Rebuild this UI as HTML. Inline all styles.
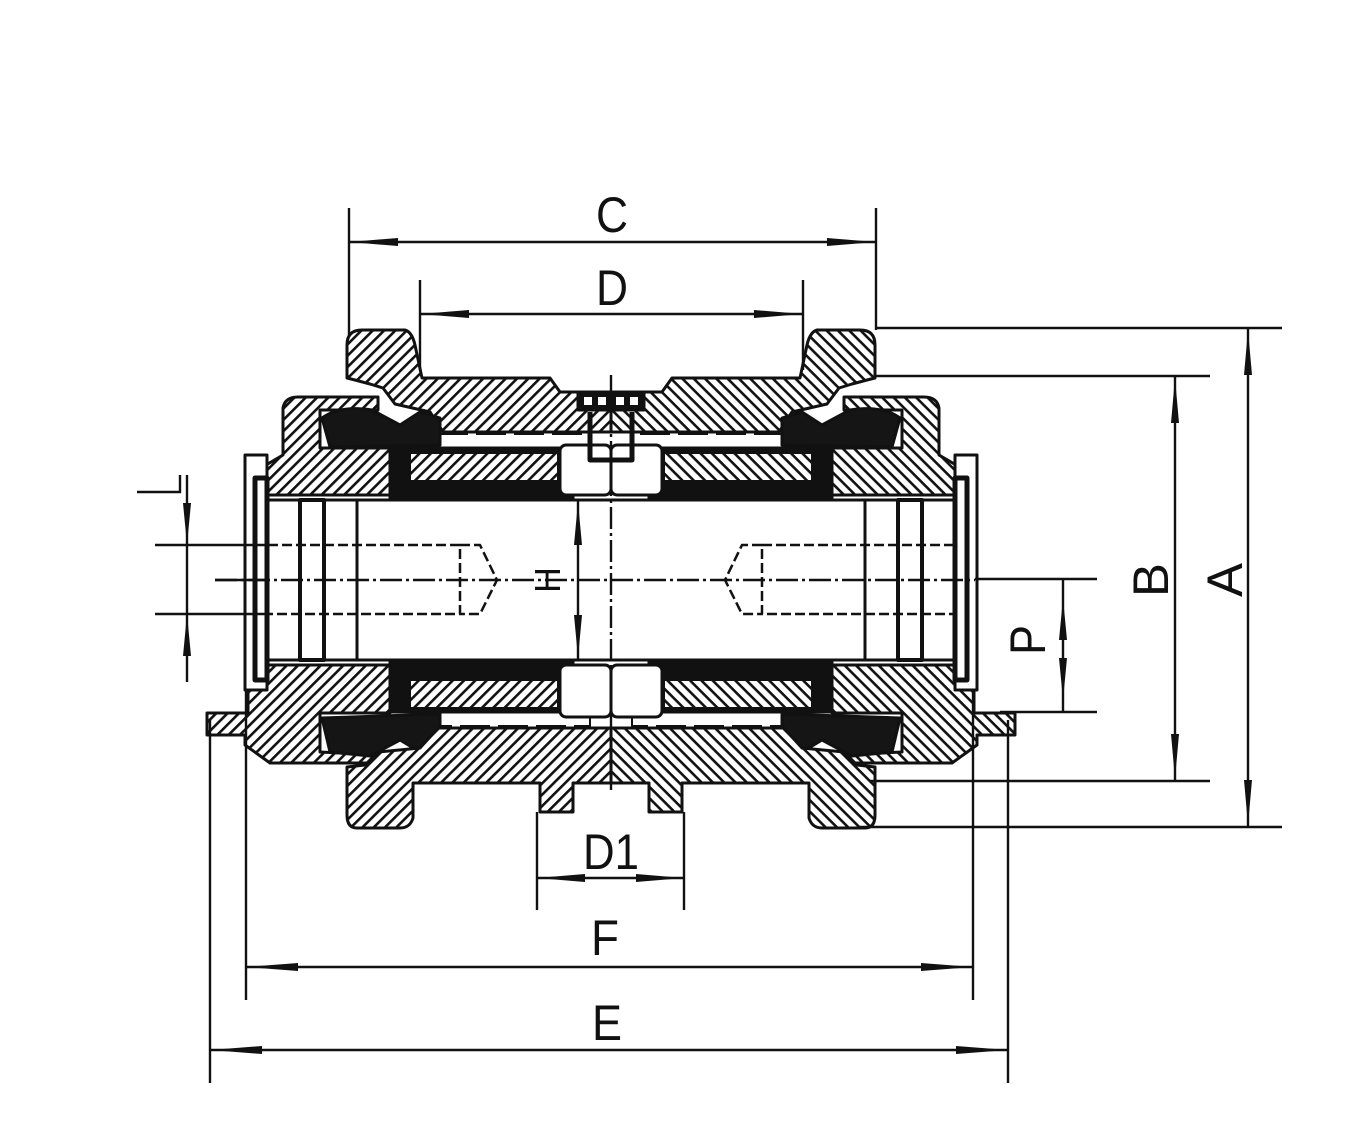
<!DOCTYPE html>
<html><head><meta charset="utf-8"><style>html,body{margin:0;padding:0;background:#fff}svg{display:block}</style></head>
<body>
<svg width="1357" height="1135" viewBox="0 0 1357 1135" xmlns="http://www.w3.org/2000/svg">
<defs>
<pattern id="h" patternUnits="userSpaceOnUse" width="8" height="8" patternTransform="rotate(45)">
<rect width="8" height="8" fill="#fff"/><rect x="0" y="0" width="2.6" height="8" fill="#111"/>
</pattern>
<g id="half" stroke="#111" stroke-width="3" stroke-linejoin="round">
  <path d="M347,345 Q347,330 362,330 L405,330 Q412,332 415,345 L422,378 L550,378 L560,392 L611,392 L611,432 L443,432 L430,412 L395,404 L383,388 L370,384 L355,380 L347,378 Z" fill="url(#h)"/>
  <path d="M283,408 Q285,397 298,397 L378,397 L378,410 L320,410 L320,448 L390,448 L390,495 L266,495 L266,465 L283,455 Z" fill="url(#h)"/>
  <path d="M322,418 Q340,405 372,410 L400,425 L420,412 L440,418 L440,445 L330,447 Z" fill="#151515"/>
  <path d="M438,434 L590,434 L590,448 L438,448" fill="none" stroke-width="2" stroke-dasharray="30 8"/>
  <rect x="390" y="448" width="183" height="52" fill="#111"/>
  <rect x="410" y="453" width="148" height="28" fill="url(#h)" stroke-width="2"/>
  <rect x="560" y="445" width="51" height="50" fill="#fff" rx="6"/>
  <path d="M578,392 L611,392 L611,410 L578,410 Z" fill="#111"/>
  <rect x="584" y="397" width="8" height="8" fill="#fff" stroke="none"/><rect x="598" y="397" width="8" height="8" fill="#fff" stroke="none"/>
  <path d="M590,412 L590,460 L611,460" fill="none" stroke-width="5"/>
  <path d="M248,665 L390,665 L390,713 L320,713 L320,752 L378,755 L373,763 L270,763 L245,745 L245,735 L207,735 L207,713 L248,713 Z" fill="url(#h)"/>
  <path d="M322,718 L440,714 L440,745 L420,752 L400,740 L370,756 L330,752 Z" fill="#151515"/>
  <path d="M438,712 L590,712 L590,726 L438,726" fill="none" stroke-width="2" stroke-dasharray="30 8"/>
  <rect x="390" y="660" width="183" height="52" fill="#111"/>
  <rect x="410" y="680" width="148" height="28" fill="url(#h)" stroke-width="2"/>
  <rect x="560" y="665" width="51" height="52" fill="#fff" rx="6"/>
  <path d="M438,728 L611,728 L611,783 L573,783 L573,812 L540,812 L540,783 L413,783 L413,818 Q410,828 400,828 L357,828 Q347,828 347,815 L347,767 L365,765 L378,752 L420,748 Z" fill="url(#h)"/>
  <rect x="245" y="455" width="22" height="235" fill="#fff"/>
  <rect x="255" y="478" width="12" height="202" fill="#fff" stroke-width="5"/>
  <rect x="300" y="500" width="24" height="160" fill="#fff" stroke-width="4"/>
  <line x1="357" y1="500" x2="357" y2="660" stroke-width="3"/>
  <line x1="266" y1="500" x2="611" y2="500"/><line x1="266" y1="660" x2="611" y2="660"/>
  <path d="M268,545 L460,545 L460,614 L268,614 M460,545 L480,545 L497,580 L480,614 L460,614" fill="none" stroke-width="2.5" stroke-dasharray="10 4"/>
</g>
</defs>
<use href="#half"/>
<use href="#half" transform="translate(1222,0) scale(-1,1)"/>
<g stroke="#111" stroke-width="2.4" fill="none">
  <line x1="611" y1="375" x2="611" y2="790" stroke-dasharray="22 4 3 4"/>
  <line x1="215" y1="580" x2="975" y2="580" stroke-dasharray="22 4 3 4"/>
  <line x1="349" y1="208" x2="349" y2="335"/><line x1="876" y1="208" x2="876" y2="330"/>
  <line x1="349" y1="242" x2="876" y2="242"/>
  <line x1="420" y1="280" x2="420" y2="370"/><line x1="803" y1="280" x2="803" y2="370"/>
  <line x1="420" y1="314" x2="803" y2="314"/>
  <line x1="876" y1="328" x2="1282" y2="328"/><line x1="860" y1="827" x2="1282" y2="827"/>
  <line x1="1248" y1="328" x2="1248" y2="827"/>
  <line x1="876" y1="376" x2="1210" y2="376"/><line x1="870" y1="781" x2="1210" y2="781"/>
  <line x1="1175" y1="376" x2="1175" y2="781"/>
  <line x1="975" y1="579" x2="1097" y2="579"/><line x1="1000" y1="712" x2="1097" y2="712"/>
  <line x1="1063" y1="579" x2="1063" y2="712"/>
  <line x1="155" y1="545" x2="268" y2="545"/><line x1="155" y1="614" x2="268" y2="614"/>
  <line x1="215" y1="580" x2="268" y2="580"/>
  <line x1="187" y1="475" x2="187" y2="682"/>
  <polyline points="137,492 180,492 180,475"/>
  <line x1="578" y1="500" x2="578" y2="660"/>
  <line x1="537" y1="812" x2="537" y2="910"/><line x1="684" y1="812" x2="684" y2="910"/>
  <line x1="537" y1="878" x2="684" y2="878"/>
  <line x1="246" y1="690" x2="246" y2="1000"/><line x1="973" y1="690" x2="973" y2="1000"/>
  <line x1="246" y1="967" x2="973" y2="967"/>
  <line x1="210" y1="720" x2="210" y2="1083"/><line x1="1008" y1="720" x2="1008" y2="1083"/>
  <line x1="210" y1="1050" x2="1008" y2="1050"/>
</g>
<g fill="#111">
  <polygon points="349,242 398,238 398,246"/><polygon points="876,242 827,238 827,246"/>
  <polygon points="420,314 469,310 469,318"/><polygon points="803,314 754,310 754,318"/>
  <polygon points="1248,330 1244,375 1252,375"/><polygon points="1248,825 1244,780 1252,780"/>
  <polygon points="1175,378 1171,423 1179,423"/><polygon points="1175,779 1171,734 1179,734"/>
  <polygon points="1063,598 1059,640 1067,640"/><polygon points="1063,700 1059,658 1067,658"/>
  <polygon points="187,545 183,503 191,503"/><polygon points="187,614 183,656 191,656"/>
  <polygon points="578,502 574,545 582,545"/><polygon points="578,658 574,615 582,615"/>
  <polygon points="537,878 585,874 585,882"/><polygon points="684,878 636,874 636,882"/>
  <polygon points="246,967 298,963 298,971"/><polygon points="973,967 921,963 921,971"/>
  <polygon points="210,1050 262,1046 262,1054"/><polygon points="1008,1050 956,1046 956,1054"/>
</g>
<g font-family="Liberation Sans, sans-serif" font-size="50" fill="#111" text-anchor="middle">
  <text x="612" y="232" textLength="32" lengthAdjust="spacingAndGlyphs">C</text>
  <text x="612" y="305" textLength="32" lengthAdjust="spacingAndGlyphs">D</text>
  <text x="611" y="869" textLength="56" lengthAdjust="spacingAndGlyphs">D1</text>
  <text x="605" y="955" textLength="28" lengthAdjust="spacingAndGlyphs">F</text>
  <text x="607" y="1040" textLength="30" lengthAdjust="spacingAndGlyphs">E</text>
  <text transform="translate(1242,580) rotate(-90)" textLength="34" lengthAdjust="spacingAndGlyphs">A</text>
  <text transform="translate(1168,580) rotate(-90)" textLength="34" lengthAdjust="spacingAndGlyphs">B</text>
  <text transform="translate(1045,640) rotate(-90)" textLength="30" lengthAdjust="spacingAndGlyphs">P</text>
  <text transform="translate(560,580) rotate(-90)" font-size="36" textLength="26" lengthAdjust="spacingAndGlyphs">H</text>
</g>
</svg>
</body></html>
